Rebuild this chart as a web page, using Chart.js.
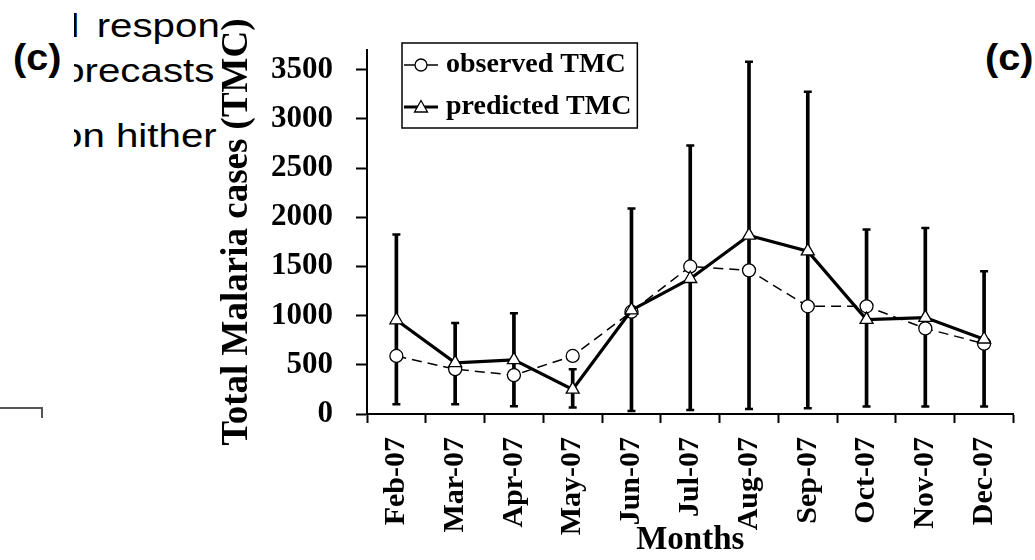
<!DOCTYPE html>
<html>
<head>
<meta charset="utf-8">
<title>Total Malaria cases</title>
<script src="https://cdn.jsdelivr.net/npm/chart.js@4.4.1/dist/chart.umd.min.js"></script>
<style>
  html, body { margin: 0; padding: 0; background: #fff; }
  #wrap { position: relative; width: 1035px; height: 560px; overflow: hidden; }
  #chart { position: absolute; left: 0; top: 0; }
  .doc { position: absolute; font-family: "Liberation Sans", Arial, sans-serif; color: #000;
         white-space: nowrap; transform-origin: 0 0; line-height: 1; }
  .body-text { font-size: 33px; transform: scaleX(1.22); }
  .label-c { font-size: 36px; font-weight: bold; transform: scaleX(1.1); top: 40px; }
  .clip { position: absolute; left: 74px; top: 0; width: 146px; height: 200px; overflow: hidden; }
  .bracket { position: absolute; left: 0; top: 407px; width: 41px; height: 9px;
             border-top: 2px solid #555; border-right: 2px solid #555; }
</style>
</head>
<body>
<div id="wrap">
  <div class="doc label-c" style="left:13px">(c)</div>
  <div class="clip">
    <div class="doc body-text" style="left:-17px; top:9px; word-spacing:5px">d respon</div>
    <div class="doc body-text" style="left:-23px; top:54px">forecasts</div>
    <div class="doc body-text" style="left:-14px; top:119px">on hither</div>
  </div>
  <div class="doc label-c" style="left:985px">(c)</div>
  <div class="bracket"></div>
  <canvas id="chart" width="1035" height="560"></canvas>
</div>
<script>
const months = ["Feb-07", "Mar-07", "Apr-07", "May-07", "Jun-07", "Jul-07",
                "Aug-07", "Sep-07", "Oct-07", "Nov-07", "Dec-07"];
const observedTMC = [590, 455, 395, 590, 1040, 1500, 1460, 1095, 1095, 870, 715];
const predictedTMC = [955, 520, 550, 250, 1055, 1375, 1815, 1655, 960, 980, 760];
// error bar ranges (low / high)
const rangeLow = [100, 100, 80, 65, 30, 40, 50, 58, 75, 75, 75];
const rangeHigh = [1825, 925, 1025, 455, 2090, 2730, 3580, 3275, 1875, 1890, 1450];
const yTickValues = [0, 500, 1000, 1500, 2000, 2500, 3000, 3500];
const yMin = 0;
const yMax = 3700;

const serif = "'Liberation Serif', 'Times New Roman', serif";

function legendIcon(kind) {
  const c = document.createElement("canvas");
  c.width = 34;
  c.height = 20;
  const g = c.getContext("2d");
  g.strokeStyle = "#000";
  g.lineWidth = kind === "tri" ? 3 : 1.5;
  g.beginPath();
  g.moveTo(0, 10);
  g.lineTo(34, 10);
  g.stroke();
  g.fillStyle = "#fff";
  g.lineWidth = 1.3;
  g.beginPath();
  if (kind === "tri") {
    g.moveTo(17, 3.5);
    g.lineTo(23.5, 15);
    g.lineTo(10.5, 15);
    g.closePath();
  } else {
    g.arc(17, 10, 6, 0, Math.PI * 2);
  }
  g.fill();
  g.stroke();
  return c;
}

// moves the legend to the top-left corner and draws its frame
const legendBox = {
  id: "legendBox",
  afterLayout(chart) {
    const lg = chart.legend;
    const w = lg.width, h = lg.height;
    lg.left = 396;
    lg.top = 37;
    lg.right = lg.left + w;
    lg.bottom = lg.top + h;
  },
  afterDraw(chart) {
    const boxes = chart.legend.legendHitBoxes;
    if (!boxes || !boxes.length) return;
    let l = Infinity, t = Infinity, r = -Infinity, b = -Infinity;
    boxes.forEach(hb => {
      l = Math.min(l, hb.left);
      t = Math.min(t, hb.top);
      r = Math.max(r, hb.left + hb.width);
      b = Math.max(b, hb.top + hb.height);
    });
    const ctx = chart.ctx;
    ctx.save();
    ctx.strokeStyle = "#000";
    ctx.lineWidth = 1.5;
    ctx.strokeRect(l - 8, t - 8, r - l + 14, b - t + 15);
    ctx.restore();
  }
};

document.addEventListener("DOMContentLoaded", () => {
  const ctx = document.getElementById("chart").getContext("2d");
  const iconObs = legendIcon("circle");
  const iconPred = legendIcon("tri");

  new Chart(ctx, {
    type: "bar",
    data: {
      labels: months,
      datasets: [
        {
          type: "line",
          label: "predicted TMC",
          data: predictedTMC,
          borderColor: "#000",
          borderWidth: 3.2,
          pointStyle: "triangle",
          pointRadius: 7.5,
          pointBackgroundColor: "#fff",
          pointBorderColor: "#000",
          pointBorderWidth: 1.3,
          order: 1,
        },
        {
          type: "line",
          label: "observed TMC",
          data: observedTMC,
          borderColor: "#000",
          borderWidth: 1.5,
          borderDash: [10, 6],
          pointStyle: "circle",
          pointRadius: 6.5,
          pointBackgroundColor: "#fff",
          pointBorderColor: "#000",
          pointBorderWidth: 1.3,
          order: 2,
        },
        {
          type: "line",
          label: "cap high",
          data: rangeHigh,
          showLine: false,
          pointStyle: "line",
          pointRadius: 4,
          pointBorderWidth: 2.5,
          pointBorderColor: "#000",
          order: 3,
        },
        {
          type: "line",
          label: "cap low",
          data: rangeLow,
          showLine: false,
          pointStyle: "line",
          pointRadius: 4,
          pointBorderWidth: 2.5,
          pointBorderColor: "#000",
          order: 3,
        },
        {
          label: "range",
          data: rangeLow.map((lo, i) => [lo, rangeHigh[i]]),
          backgroundColor: "#000",
          borderWidth: 0,
          barThickness: 3,
          order: 4,
        },
      ],
    },
    options: {
      responsive: false,
      animation: false,
      events: [],
      layout: { padding: { left: 215, top: 50, right: 20, bottom: 0 } },
      plugins: {
        tooltip: { enabled: false },
        legend: {
          position: "chartArea",
          align: "start",
          labels: {
            usePointStyle: true,
            pointStyleWidth: 22,
            padding: 14,
            color: "#000",
            font: { family: serif, size: 28, weight: "bold" },
            generateLabels: () => [
              { text: "observed TMC", pointStyle: iconObs, fillStyle: "#fff", strokeStyle: "#000", lineWidth: 0, datasetIndex: 1, hidden: false },
              { text: "predicted TMC", pointStyle: iconPred, fillStyle: "#fff", strokeStyle: "#000", lineWidth: 0, datasetIndex: 0, hidden: false },
            ],
          },
        },
      },
      scales: {
        x: {
          offset: true,
          afterFit: (s) => { s.height = 146; },
          grid: { offset: true, drawOnChartArea: false, drawTicks: true, tickLength: 9, color: "#000", tickWidth: 2 },
          border: { color: "#000", width: 2 },
          ticks: {
            autoSkip: false,
            minRotation: 90,
            maxRotation: 90,
            padding: 14,
            color: "#000",
            font: { family: serif, size: 30, weight: "bold" },
          },
          title: {
            display: true,
            text: "Months",
            color: "#000",
            padding: { top: 0, bottom: 0 },
            font: { family: serif, size: 33, weight: "bold" },
          },
        },
        y: {
          min: yMin,
          max: yMax,
          afterFit: (s) => { s.width = 152; },
          afterBuildTicks: (s) => { s.ticks = yTickValues.map(v => ({ value: v })); },
          grid: { drawOnChartArea: false, drawTicks: true, tickLength: 11, color: "#000", tickWidth: 2 },
          border: { color: "#000", width: 2 },
          ticks: {
            padding: 23,
            color: "#000",
            font: { family: serif, size: 31, weight: "bold" },
            callback: (v) => String(v),
          },
          title: {
            display: true,
            text: "Total Malaria cases (TMC)",
            color: "#000",
            padding: { top: 0, bottom: 0 },
            font: { family: serif, size: 37, weight: "bold" },
          },
        },
      },
    },
    plugins: [legendBox],
  });
});
</script>
</body>
</html>
